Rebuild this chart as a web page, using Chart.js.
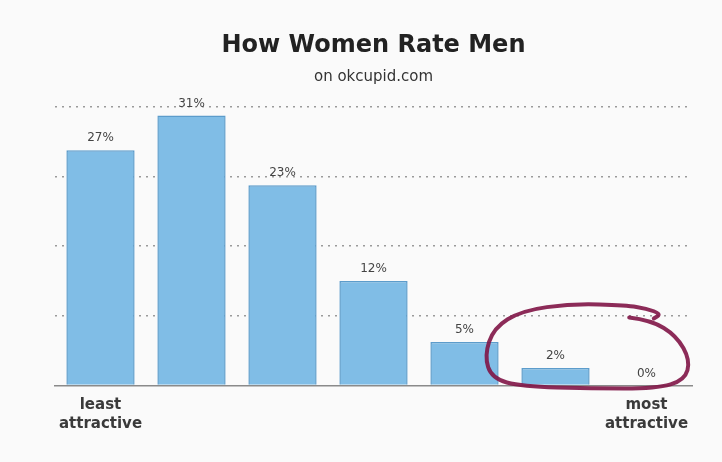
<!DOCTYPE html>
<html>
<head>
<meta charset="utf-8">
<script src="https://cdn.jsdelivr.net/npm/chart.js@4"></script>
<style>
  html, body { margin: 0; padding: 0; background: #fafafa; }
  #wrap { width: 722px; height: 462px; }
</style>
</head>
<body>
<div id="wrap"><canvas id="chart" width="722" height="462"></canvas></div>
<script>
// How Women Rate Men, okcupid share of ratings per attractiveness bucket
const categories = [["least", "attractive"], "", "", "", "", "", ["most", "attractive"]];
const shares = [27, 31, 23, 12, 5, 2, 0];
const yTicks = [0, 8, 16, 24, 32];

// hand-drawn loop round the last two buckets: [offset in categories from bar 6, value]
const loopPath = [
  [0.81, 7.8], [1.05, 7.5], [1.33, 5.7], [1.48, 2.9], [1.42, 0.6],
  [1.11, -0.35], [0.40, -0.35], [-0.37, -0.1], [-0.70, 0.8], [-0.78, 3.4],
  [-0.68, 6.6], [-0.37, 8.6], [0.18, 9.4], [0.78, 9.2], [1.0, 8.85], [1.16, 8.2], [1.08, 7.7],
];

const barLabels = {
  id: "barLabels",
  afterDatasetsDraw(chart) {
    const { ctx } = chart;
    const meta = chart.getDatasetMeta(0);
    ctx.save();
    ctx.font = "12px 'DejaVu Sans'";
    ctx.fillStyle = "#444";
    ctx.textAlign = "center";
    ctx.textBaseline = "bottom";
    meta.data.forEach((bar, i) => {
      ctx.fillText(shares[i] + "%", bar.x, bar.y - 6);
    });
    ctx.restore();
  },
};

const redLoop = {
  id: "redLoop",
  afterDraw(chart) {
    const { ctx, scales } = chart;
    const x0 = scales.x.getPixelForValue(5);
    const w = scales.x.getPixelForValue(6) - x0;
    const pts = loopPath.map(([dx, v]) => [x0 + dx * w, scales.y.getPixelForValue(v)]);
    ctx.save();
    ctx.strokeStyle = "rgba(128, 20, 70, 0.9)";
    ctx.lineWidth = 4;
    ctx.lineCap = "round";
    ctx.lineJoin = "round";
    ctx.beginPath();
    ctx.moveTo(pts[0][0], pts[0][1]);
    for (let i = 1; i < pts.length - 1; i++) {
      const mx = (pts[i][0] + pts[i + 1][0]) / 2;
      const my = (pts[i][1] + pts[i + 1][1]) / 2;
      ctx.quadraticCurveTo(pts[i][0], pts[i][1], mx, my);
    }
    const last = pts[pts.length - 1];
    ctx.lineTo(last[0], last[1]);
    ctx.stroke();
    ctx.restore();
  },
};

new Chart(document.getElementById("chart"), {
  type: "bar",
  data: {
    labels: categories,
    datasets: [{
      data: shares,
      backgroundColor: "#80bde6",
      borderColor: "#5c9ccb",
      borderWidth: 1.5,
      categoryPercentage: 1,
      barPercentage: 0.75,
    }],
  },
  options: {
    responsive: false,
    animation: false,
    layout: { padding: { left: 55, right: 30, top: 0, bottom: 27 } },
    plugins: {
      legend: { display: false },
      tooltip: { enabled: false },
      title: {
        display: true,
        text: "How Women Rate Men",
        color: "#222",
        font: { family: "'DejaVu Sans'", size: 24, weight: "bold" },
        padding: { top: 31, bottom: 8 },
      },
      subtitle: {
        display: true,
        text: "on okcupid.com",
        color: "#333",
        font: { family: "'DejaVu Sans'", size: 15 },
        padding: { bottom: 21 },
      },
    },
    scales: {
      x: {
        grid: { display: false },
        border: { display: true, color: "#8a8a8a", width: 1.5 },
        ticks: {
          color: "#3a3a3a",
          padding: 2,
          maxRotation: 0,
          autoSkip: false,
          font: { family: "'DejaVu Sans'", size: 15, weight: "bold", lineHeight: 1.25 },
        },
      },
      y: {
        min: 0,
        max: 32,
        afterBuildTicks: (axis) => { axis.ticks = yTicks.map((v) => ({ value: v })); },
        ticks: { display: false },
        border: { display: false, dash: [2, 5] },
        grid: {
          color: (c) => (c.tick && c.tick.value === 0 ? "rgba(0,0,0,0)" : "#9a9a9a"),
          lineWidth: 1.5,
          drawTicks: false,
        },
      },
    },
  },
  plugins: [barLabels, redLoop],
});
</script>
</body>
</html>
